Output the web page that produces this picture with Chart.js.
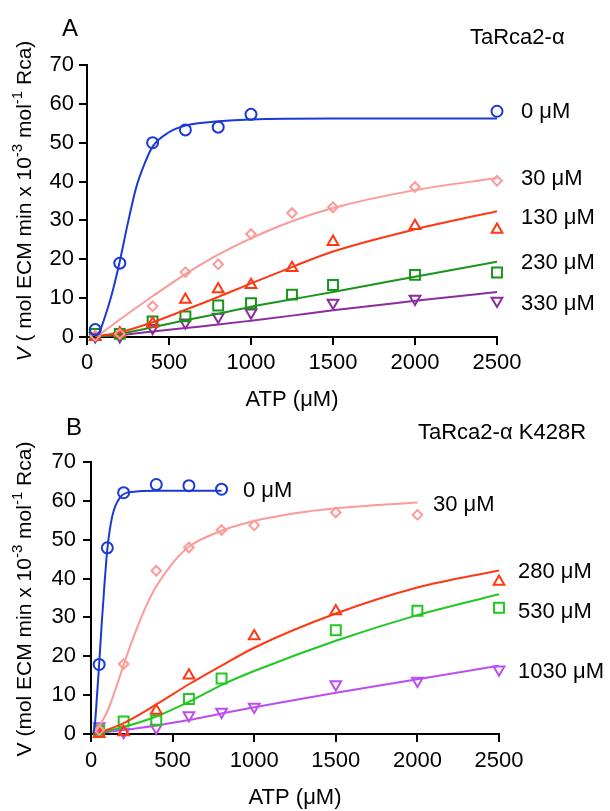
<!DOCTYPE html>
<html>
<head>
<meta charset="utf-8">
<title>ATP response curves</title>
<script src="https://cdn.jsdelivr.net/npm/chart.js@4.4.1/dist/chart.umd.min.js"></script>
<style>
    html, body { margin: 0; padding: 0; background: #ffffff; }
    #wrap { position: relative; width: 610px; height: 811px; overflow: hidden; }
    canvas { position: absolute; left: 0; }
    #chartA { top: 0; }
    #chartB { top: 410px; }
</style>
</head>
<body>
<div id="wrap">
    <canvas id="chartA" width="610" height="420"></canvas>
    <canvas id="chartB" width="610" height="401"></canvas>
</div>
<script>
// ---- Panel A : TaRca2-alpha ----
const titleA = 'TaRca2-\u03b1';
const namesA = ['0 \u03bcM', '30 \u03bcM', '130 \u03bcM', '230 \u03bcM', '330 \u03bcM'];

// measured points
const atpA = [50, 200, 400, 600, 800, 1000, 1250, 1500, 2000, 2500];
const atpA0 = [50, 200, 400, 600, 800, 1000, 2500];
const atpA330 = [50, 200, 400, 600, 800, 1000, 1500, 2000, 2500];
const rateA0 = [1.9, 19.0, 50.0, 53.3, 54.0, 57.3, 58.1];
const rateA30 = [0.3, 0.8, 7.9, 16.7, 18.7, 26.5, 31.9, 33.4, 38.6, 40.2];
const rateA130 = [0.0, 1.0, 3.5, 9.6, 12.3, 13.4, 17.8, 24.5, 28.6, 27.6];
const rateA230 = [0.8, 0.8, 4.0, 5.3, 8.1, 8.7, 10.9, 13.4, 16.0, 16.6];
const rateA330 = [0.2, 0.2, 2.3, 3.7, 5.2, 6.3, 8.8, 9.8, 9.3];

// fitted curves
const fitA0x = [50, 75, 100, 150, 200, 250, 300, 350, 400, 500, 600, 800, 1000, 1500, 2500];
const fitA0y = [0.3, 1.3, 4.0, 10.8, 19.5, 29.5, 38.5, 44.5, 49.0, 52.7, 54.4, 55.5, 56.0, 56.2, 56.2];
const fitA30x = [50, 100, 200, 400, 600, 800, 1000, 1250, 1500, 2000, 2500];
const fitA30y = [0.3, 1.4, 4.5, 10.5, 16.2, 21.2, 25.4, 29.8, 33.2, 37.8, 40.9];
const fitAx = [50, 200, 400, 600, 800, 1000, 1250, 1500, 2000, 2500];
const fitA130y = [0.1, 1.2, 3.8, 7.0, 10.3, 13.8, 18.0, 22.0, 27.7, 32.4];
const fitA230y = [0.1, 0.8, 2.5, 4.3, 6.0, 7.8, 9.7, 11.6, 15.5, 19.4];
const fitA330y = [0.1, 0.5, 1.4, 2.3, 3.2, 4.2, 5.5, 6.9, 9.3, 11.6];

// ---- Panel B : TaRca2-alpha K428R ----
const titleB = 'TaRca2-\u03b1 K428R';
const namesB = ['0 \u03bcM', '30 \u03bcM', '280 \u03bcM', '530 \u03bcM', '1030 \u03bcM'];

const atpB0 = [50, 100, 200, 400, 600, 800];
const atpB30 = [50, 200, 400, 600, 800, 1000, 1500, 2000];
const atpB280 = [50, 200, 400, 600, 1000, 1500, 2500];
const atpB530 = [50, 200, 400, 600, 800, 1500, 2000, 2500];
const atpB1030 = [50, 200, 400, 600, 800, 1000, 1500, 2000, 2500];
const rateB0 = [17.9, 47.9, 62.1, 64.2, 63.9, 63.0];
const rateB30 = [1.0, 18.0, 42.0, 48.0, 52.5, 53.7, 57.0, 56.4];
const rateB280 = [0.0, 0.5, 6.0, 15.1, 25.2, 31.6, 39.2];
const rateB530 = [1.0, 3.2, 3.5, 9.0, 14.3, 26.7, 31.7, 32.5];
const rateB1030 = [2.0, 0.5, 1.6, 4.8, 5.7, 7.0, 12.8, 13.7, 16.6];

const fitB0x = [15, 25, 37, 50, 65, 80, 100, 130, 180, 250, 400, 800];
const fitB0y = [0.2, 3.0, 10.0, 18.0, 28.0, 37.0, 47.5, 56.0, 61.0, 62.3, 62.6, 62.6];
const fitB30x = [30, 100, 150, 200, 250, 300, 350, 400, 500, 600, 800, 1000, 1250, 1500, 2000];
const fitB30y = [0.5, 5.8, 11.5, 17.8, 23.8, 29.2, 34.0, 38.0, 44.0, 48.2, 52.3, 54.8, 56.8, 58.1, 59.6];
const fitBx = [50, 200, 400, 600, 800, 1000, 1500, 2000, 2500];
const fitB280y = [0.3, 2.8, 7.6, 12.8, 17.6, 22.2, 31.0, 37.7, 42.1];
const fitB530y = [0.3, 1.8, 4.5, 8.3, 12.6, 16.2, 24.0, 30.6, 36.0];
const fitB1030y = [0.3, 1.0, 2.2, 3.6, 5.3, 6.9, 10.6, 14.1, 17.6];

// axis ticks
const xTicks = [0, 500, 1000, 1500, 2000, 2500];
const yTicks = [0, 10, 20, 30, 40, 50, 60, 70];

const FONT = "'Liberation Sans', Arial, Helvetica, sans-serif";
const colors = {
    blue: '#1a3ad6',
    pink: '#fb9a98',
    red: '#ff3814',
    greenA: '#18961c',
    purpleA: '#8c2c9e',
    greenB: '#22c722',
    purpleB: '#bb4ef2'
};

const markers = {
    circle: { style: 'circle', radius: 5.5, rotation: 0 },
    diamond: { style: 'rectRot', radius: 4.8, rotation: 0 },
    up: { style: 'triangle', radius: 6.2, rotation: 0 },
    square: { style: 'rect', radius: 7, rotation: 0 },
    down: { style: 'triangle', radius: 6.2, rotation: 180 }
};

function pairs(xs, ys) {
    return xs.map((x, i) => ({ x: x, y: ys[i] }));
}

function makeSeries(color, marker, x, y, fitX, fitY) {
    return { color, marker, x, y, fitX, fitY };
}

// Draws panel letters, titles, series names and the rotated y title
function textPlugin(cfg) {
    return {
        id: 'panelText',
        afterDraw(chart) {
            const ctx = chart.ctx;
            ctx.save();
            ctx.fillStyle = '#000';
            ctx.textBaseline = 'middle';
            cfg.items.forEach(it => {
                ctx.font = it.font;
                ctx.textAlign = it.align || 'left';
                ctx.fillText(it.text, it.x, it.y);
            });

            // y title with superscripts, rotated
            ctx.translate(cfg.yTitle.x, cfg.yTitle.y);
            ctx.rotate(-Math.PI / 2);
            ctx.textAlign = 'left';
            let total = 0;
            cfg.yTitle.runs.forEach(r => {
                ctx.font = r.font;
                total += ctx.measureText(r.text).width;
            });
            let pos = -total / 2;
            cfg.yTitle.runs.forEach(r => {
                ctx.font = r.font;
                ctx.fillText(r.text, pos, r.dy || 0);
                pos += ctx.measureText(r.text).width;
            });
            ctx.restore();
        }
    };
}

function buildChart(canvasId, cfg) {
    const datasets = [];
    cfg.series.forEach(s => {
        datasets.push({
            type: 'line',
            data: pairs(s.fitX, s.fitY),
            borderColor: s.color,
            borderWidth: 2,
            pointRadius: 0,
            fill: false,
            cubicInterpolationMode: 'monotone'
        });
        datasets.push({
            type: 'scatter',
            data: pairs(s.x, s.y),
            pointStyle: s.marker.style,
            pointRadius: s.marker.radius,
            pointRotation: s.marker.rotation,
            pointBorderColor: s.color,
            pointBackgroundColor: 'rgba(0,0,0,0)',
            pointBorderWidth: 2,
            showLine: false,
            clip: false
        });
    });

    const tickFont = { family: FONT, size: 22 };
    const gridOpts = { drawOnChartArea: false, drawTicks: true, tickLength: 8, color: '#000', lineWidth: 2 };

    return new Chart(document.getElementById(canvasId), {
        data: { datasets },
        options: {
            responsive: false,
            animation: false,
            layout: { padding: cfg.padding },
            plugins: { legend: { display: false }, tooltip: { enabled: false } },
            scales: {
                x: {
                    type: 'linear',
                    min: xTicks[0],
                    max: xTicks[xTicks.length - 1],
                    afterBuildTicks: scale => { scale.ticks = xTicks.map(v => ({ value: v })); },
                    ticks: {
                        color: '#000', font: tickFont, padding: cfg.xPad,
                        maxRotation: 0, autoSkip: false,
                        callback: v => String(v)
                    },
                    grid: gridOpts,
                    border: { display: true, color: '#000', width: 2 },
                    afterFit: scale => { scale.height = cfg.xHeight; }
                },
                y: {
                    type: 'linear',
                    min: yTicks[0],
                    max: yTicks[yTicks.length - 1],
                    afterBuildTicks: scale => { scale.ticks = yTicks.map(v => ({ value: v })); },
                    ticks: {
                        color: '#000', font: tickFont, padding: cfg.yPad,
                        callback: v => String(v)
                    },
                    grid: gridOpts,
                    border: { display: true, color: '#000', width: 2 },
                    afterFit: scale => { scale.width = cfg.yWidth; }
                }
            }
        },
        plugins: [textPlugin(cfg.text)]
    });
}

const f22 = '22px ' + FONT;
const f21 = '21px ' + FONT;
const sup = '15px ' + FONT;

buildChart('chartA', {
    padding: { left: 0, top: 65, right: 113, bottom: 0 },
    yWidth: 87, xHeight: 83, xPad: 5, yPad: 5,
    series: [
        makeSeries(colors.blue, markers.circle, atpA0, rateA0, fitA0x, fitA0y),
        makeSeries(colors.pink, markers.diamond, atpA, rateA30, fitA30x, fitA30y),
        makeSeries(colors.red, markers.up, atpA, rateA130, fitAx, fitA130y),
        makeSeries(colors.greenA, markers.square, atpA, rateA230, fitAx, fitA230y),
        makeSeries(colors.purpleA, markers.down, atpA330, rateA330, fitAx, fitA330y)
    ],
    text: {
        items: [
            { text: 'A', x: 70, y: 29, font: '24px ' + FONT, align: 'center' },
            { text: titleA, x: 470, y: 38, font: f22 },
            { text: namesA[0], x: 521, y: 112, font: f22 },
            { text: namesA[1], x: 521, y: 179, font: f22 },
            { text: namesA[2], x: 521, y: 218, font: f22 },
            { text: namesA[3], x: 521, y: 263, font: f22 },
            { text: namesA[4], x: 521, y: 304, font: f22 },
            { text: 'ATP (\u03bcM)', x: 292, y: 400, font: f22, align: 'center' }
        ],
        yTitle: {
            x: 25, y: 201,
            runs: [
                { text: 'V', font: 'italic ' + f21 },
                { text: ' ( mol ECM min x 10', font: f21 },
                { text: '-3', font: sup, dy: -7 },
                { text: ' mol', font: f21 },
                { text: '-1', font: sup, dy: -7 },
                { text: ' Rca)', font: f21 }
            ]
        }
    }
});

buildChart('chartB', {
    padding: { left: 0, top: 52, right: 111, bottom: 0 },
    yWidth: 91, xHeight: 77, xPad: 6, yPad: 7,
    series: [
        makeSeries(colors.blue, markers.circle, atpB0, rateB0, fitB0x, fitB0y),
        makeSeries(colors.pink, markers.diamond, atpB30, rateB30, fitB30x, fitB30y),
        makeSeries(colors.red, markers.up, atpB280, rateB280, fitBx, fitB280y),
        makeSeries(colors.greenB, markers.square, atpB530, rateB530, fitBx, fitB530y),
        makeSeries(colors.purpleB, markers.down, atpB1030, rateB1030, fitBx, fitB1030y)
    ],
    text: {
        items: [
            { text: 'B', x: 74, y: 18, font: '24px ' + FONT, align: 'center' },
            { text: titleB, x: 418, y: 23, font: f22 },
            { text: namesB[0], x: 243, y: 81, font: f22 },
            { text: namesB[1], x: 433, y: 95, font: f22 },
            { text: namesB[2], x: 518, y: 162, font: f22 },
            { text: namesB[3], x: 518, y: 202, font: f22 },
            { text: namesB[4], x: 518, y: 262, font: f22 },
            { text: 'ATP (\u03bcM)', x: 295, y: 388, font: f22, align: 'center' }
        ],
        yTitle: {
            x: 25, y: 189,
            runs: [
                { text: 'V (mol ECM min x 10', font: f21 },
                { text: '-3', font: sup, dy: -7 },
                { text: ' mol', font: f21 },
                { text: '-1', font: sup, dy: -7 },
                { text: ' Rca)', font: f21 }
            ]
        }
    }
});
</script>
</body>
</html>
